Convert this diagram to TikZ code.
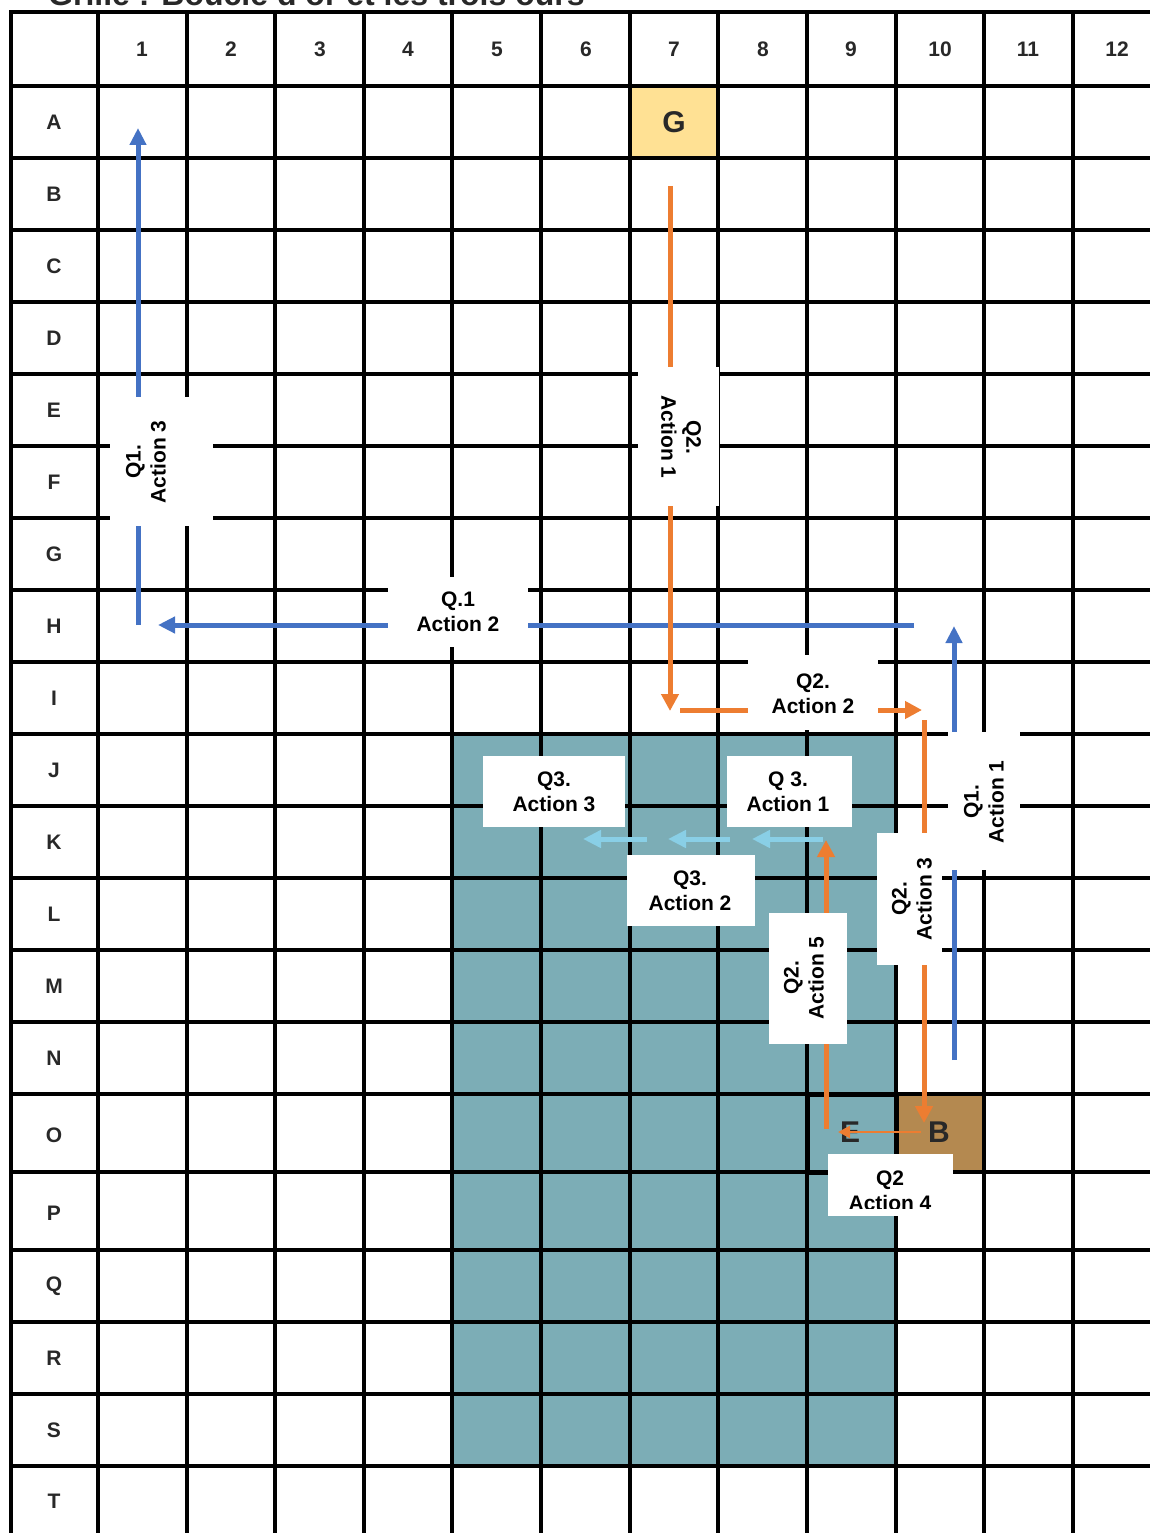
\documentclass[tikz,border=0pt]{standalone}
\usepackage{fontspec}
\setmainfont{Liberation Sans}
\usetikzlibrary{arrows.meta}
\definecolor{tealbg}{RGB}{124,173,182}
\definecolor{goldc}{RGB}{255,225,148}
\definecolor{brownc}{RGB}{180,137,80}
\definecolor{blueA}{RGB}{68,114,196}
\definecolor{orangeA}{RGB}{237,125,49}
\definecolor{lightA}{RGB}{137,207,230}
\definecolor{darktxt}{RGB}{40,40,40}
\begin{document}
\begin{tikzpicture}[x=1pt,y=-1pt,
  gridline/.style={line width=3.4pt,black},
  hdr/.style={font=\bfseries\fontsize{21}{24}\selectfont,text=darktxt},
  bigletter/.style={font=\bfseries\fontsize{30}{32}\selectfont,text=darktxt},
  whitebox/.style={fill=white,inner sep=0pt,draw=none},
  lbltext/.style={font=\bfseries\fontsize{21}{25}\selectfont,align=center,inner sep=0pt,text=black},
  bluearrow/.style={blueA,line width=5pt,-{Triangle[length=17pt,width=16pt]}},
  orangearrow/.style={orangeA,line width=5pt,-{Triangle[length=17pt,width=17pt]}},
  lightarrow/.style={lightA,line width=5pt,-{Triangle[length=18pt,width=17pt]}},
  thinarrow/.style={orangeA,line width=2.4pt,-{Triangle[length=12pt,width=12pt]}}
]
\useasboundingbox (0,0) rectangle (1149,1533);
% title (cut at the top, as in the reference)
\node[anchor=base west,inner sep=0pt,font=\bfseries\fontsize{32}{36}\selectfont,text=darktxt] (title) at (48,6) {Grille : Boucle d'or et les trois ours};
% coloured areas
\fill[tealbg] (452,734) rectangle (896,1466);
\fill[goldc] (630,86) rectangle (718,158);
\fill[brownc] (896,1094) rectangle (984,1172);
% grid
\foreach \x in {11,98,187,275,364,452,541,630,718,807,896,984,1073}
  \draw[gridline] (\x,10.3) -- (\x,1540);
\foreach \y in {12,86,158,230,302,374,446,518,590,662,734,806,878,950,1022,1094,1172,1250,1322,1394,1466}
  \draw[gridline] (9.3,\y) -- (1155,\y);
% headers
\foreach \c/\x in {1/142,2/231,3/320,4/408,5/497,6/586,7/674,8/763,9/851,10/940,11/1028,12/1117}
  \node[hdr] (col\c) at (\x,49) {\c};
\foreach \r/\y in {A/122,B/194,C/266,D/338,E/410,F/482,G/554,H/626,I/698,J/770,K/842,L/914,M/986,N/1058,O/1135,P/1213,Q/1286,R/1358,S/1430,T/1501}
  \node[hdr] (row\r) at (54,\y) {\r};
% special cells
\draw[line width=5pt,black] (807,1094) rectangle (896,1172);
\node[bigletter] (cellG) at (674,122) {G};
\node[bigletter] (cellB) at (939,1132) {B};
\node[bigletter] (cellE) at (850,1132) {E};
% arrow end points
\coordinate (a1s) at (914,625);
\coordinate (a1e) at (158,625);
\coordinate (a2s) at (138,625);
\coordinate (a2e) at (138,128);
\coordinate (a3s) at (954,1060);
\coordinate (a3e) at (954,626);
\coordinate (o1s) at (670,186);
\coordinate (o1e) at (670,711);
\coordinate (o2s) at (680,710);
\coordinate (o2e) at (922,710);
\coordinate (o3s) at (924,720);
\coordinate (o3e) at (924,1123);
\coordinate (o4s) at (921,1132);
\coordinate (o4e) at (838,1132);
\coordinate (o5s) at (826,1129);
\coordinate (o5e) at (826,840);
\coordinate (l1s) at (823,839);
\coordinate (l1e) at (752,839);
\coordinate (l2s) at (730,839);
\coordinate (l2e) at (668,839);
\coordinate (l3s) at (647,839);
\coordinate (l3e) at (583,839);
% arrows
\draw[bluearrow] (a1s) -- (a1e);
\draw[bluearrow] (a2s) -- (a2e);
\draw[bluearrow] (a3s) -- (a3e);
\draw[orangearrow] (o1s) -- (o1e);
\draw[orangearrow] (o2s) -- (o2e);
\draw[orangearrow] (o3s) -- (o3e);
\draw[orangearrow] (o5s) -- (o5e);
\draw[thinarrow] (o4s) -- (o4e);
\draw[lightarrow] (l1s) -- (l1e);
\draw[lightarrow] (l2s) -- (l2e);
\draw[lightarrow] (l3s) -- (l3e);
% label boxes
\node[whitebox,minimum width=103pt,minimum height=129pt] (bQ1A3) at (161.5,461.5) {};
\node[lbltext,rotate=90] (tQ1A3) at (146,462) {Q1.\\Action 3};
\node[whitebox,minimum width=140pt,minimum height=70pt] (bQ1A2) at (458,612) {};
\node[lbltext] (tQ1A2) at (458,612) {Q.1\\Action 2};
\node[whitebox,minimum width=72pt,minimum height=138pt] (bQ1A1) at (984,801) {};
\node[lbltext,rotate=90] (tQ1A1) at (984,802) {Q1.\\Action 1};
\node[whitebox,minimum width=81pt,minimum height=139pt] (bQ2A1) at (678.5,436.5) {};
\node[lbltext,rotate=-90] (tQ2A1) at (681,437) {Q2.\\Action 1};
\node[whitebox,minimum width=130pt,minimum height=75pt] (bQ2A2) at (813,692.5) {};
\node[lbltext] (tQ2A2) at (813,694) {Q2.\\Action 2};
\node[whitebox,minimum width=65pt,minimum height=132pt] (bQ2A3) at (909.5,899) {};
\node[lbltext,rotate=90] (tQ2A3) at (912,899) {Q2.\\Action 3};
\node[whitebox,minimum width=78pt,minimum height=131pt] (bQ2A5) at (808,978.5) {};
\node[lbltext,rotate=90] (tQ2A5) at (804,978) {Q2.\\Action 5};
\node[whitebox,minimum width=142pt,minimum height=71pt] (bQ3A3) at (554,791.5) {};
\node[lbltext] (tQ3A3) at (554,791.5) {Q3.\\Action 3};
\node[whitebox,minimum width=125pt,minimum height=71pt] (bQ3A1) at (789.5,791.5) {};
\node[lbltext] (tQ3A1) at (788,792) {Q 3.\\Action 1};
\node[whitebox,minimum width=128pt,minimum height=71pt] (bQ3A2) at (691,890.5) {};
\node[lbltext] (tQ3A2) at (690,891) {Q3.\\Action 2};
\node[whitebox,minimum width=125pt,minimum height=62pt] (bQ2A4) at (890.5,1185) {};
\begin{scope}
  \clip (828,1154) rectangle (953,1208);
  \node[lbltext,anchor=north] (tQ2A4) at (890,1170.5) {Q2\\Action 4};
\end{scope}
\end{tikzpicture}
\end{document}
